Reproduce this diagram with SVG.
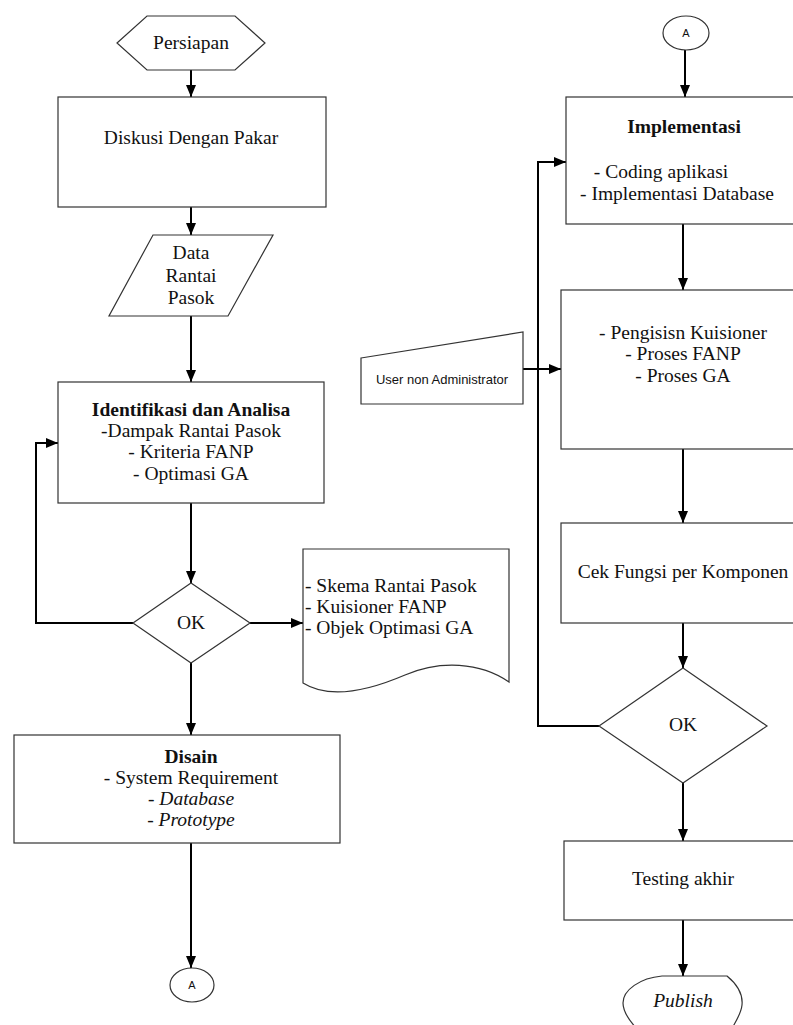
<svg xmlns="http://www.w3.org/2000/svg" width="793" height="1025" viewBox="0 0 793 1025">
<style>
.s{fill:#fff;stroke:#333;stroke-width:1.2}
.c{fill:none;stroke:#000;stroke-width:2}
.t{font-family:"Liberation Serif","Times New Roman",serif;font-size:19.5px;fill:#111;text-anchor:middle}
.l{text-anchor:start}
.b{font-weight:bold}
.i{font-style:italic}
.sa{font-family:"Liberation Sans",Arial,sans-serif;fill:#111;text-anchor:middle}
</style>
<defs>
<marker id="ah" viewBox="0 0 12 10" refX="12" refY="5" markerWidth="12" markerHeight="10" markerUnits="userSpaceOnUse" orient="auto">
<path d="M0,0 L12,5 L0,10 z" fill="#000"/>
</marker>
</defs>
<rect width="793" height="1025" fill="#fff"/>
<g id="connectors" class="c" marker-end="url(#ah)">
<path d="M191,70 V97"/>
<path d="M191,207 V235"/>
<path d="M191,316 V382"/>
<path d="M191,503 V583"/>
<path d="M133,623 H36 V443 H58"/>
<path d="M250,623 H303"/>
<path d="M191,663 V735"/>
<path d="M191,843 V968"/>
<path d="M685,50 V97"/>
<path d="M683,224 V290"/>
<path d="M523,369 H561"/>
<path d="M683,449 V523"/>
<path d="M683,623 V668"/>
<path d="M599,726 H538 V162 H566"/>
<path d="M683,783 V841"/>
<path d="M683,920 V976"/>
</g>
<g id="persiapan">
<polygon class="s" points="117,43 147,16 235,16 265,43 235,70 147,70"/>
<text class="t" x="191" y="49">Persiapan</text>
</g>
<g id="diskusi">
<rect class="s" x="58" y="97" width="268" height="110"/>
<text class="t" x="191" y="144">Diskusi Dengan Pakar</text>
</g>
<g id="data">
<polygon class="s" points="153,235 273,235 228,316 109,316"/>
<text class="t" x="191" y="259">Data</text>
<text class="t" x="191" y="282">Rantai</text>
<text class="t" x="191" y="304">Pasok</text>
</g>
<g id="identifikasi">
<rect class="s" x="58" y="382" width="266" height="121"/>
<text class="t b" x="191" y="416">Identifikasi dan Analisa</text>
<text class="t" x="191" y="437">-Dampak Rantai Pasok</text>
<text class="t" x="191" y="458">- Kriteria FANP</text>
<text class="t" x="191" y="480">- Optimasi GA</text>
</g>
<g id="ok1">
<polygon class="s" points="191,583 250,623 191,663 133,623"/>
<text class="t" x="191" y="629">OK</text>
</g>
<g id="dokumen">
<path class="s" d="M303,549 H509 V682 C480,662 440,660 405,675 C370,690 330,700 303,683 Z"/>
<text class="t l" x="305" y="592">- Skema Rantai Pasok</text>
<text class="t l" x="305" y="613">- Kuisioner FANP</text>
<text class="t l" x="305" y="634">- Objek Optimasi GA</text>
</g>
<g id="disain">
<rect class="s" x="14" y="735" width="326" height="108"/>
<text class="t b" x="191" y="763">Disain</text>
<text class="t" x="191" y="784">- System Requirement</text>
<text class="t" x="191" y="805">- <tspan class="i">Database</tspan></text>
<text class="t" x="191" y="826">- <tspan class="i">Prototype</tspan></text>
</g>
<g id="a-bawah">
<ellipse class="s" cx="192" cy="985" rx="22" ry="17"/>
<text class="sa" x="192" y="989" font-size="11">A</text>
</g>
<g id="a-atas">
<ellipse class="s" cx="686" cy="33" rx="23" ry="17"/>
<text class="sa" x="686" y="37" font-size="11">A</text>
</g>
<g id="implementasi">
<rect class="s" x="566" y="97" width="240" height="127"/>
<text class="t b" x="684" y="133">Implementasi</text>
<text class="t" x="661" y="178">- Coding aplikasi</text>
<text class="t" x="677" y="200">- Implementasi Database</text>
</g>
<g id="user">
<polygon class="s" points="361,358 523,332 523,404 361,404"/>
<text class="sa" x="442" y="384" font-size="13">User non Administrator</text>
</g>
<g id="proses">
<rect class="s" x="561" y="290" width="245" height="159"/>
<text class="t" x="683" y="339">- Pengisisn Kuisioner</text>
<text class="t" x="683" y="360">- Proses FANP</text>
<text class="t" x="683" y="382">- Proses GA</text>
</g>
<g id="cek">
<rect class="s" x="561" y="523" width="245" height="100"/>
<text class="t" x="683" y="578">Cek Fungsi per Komponen</text>
</g>
<g id="ok2">
<polygon class="s" points="683,668 767,726 683,783 599,726"/>
<text class="t" x="683" y="731">OK</text>
</g>
<g id="testing">
<rect class="s" x="564" y="841" width="242" height="79"/>
<text class="t" x="683" y="885">Testing akhir</text>
</g>
<g id="publish">
<path class="s" d="M662,976 H727 C738,985 743,995 742,1005 C741,1015 735,1022 730,1032 H640 C630,1022 623,1013 623,1003 C623,990 640,978 662,976 Z"/>
<text class="t i" x="683" y="1007">Publish</text>
</g>
</svg>
